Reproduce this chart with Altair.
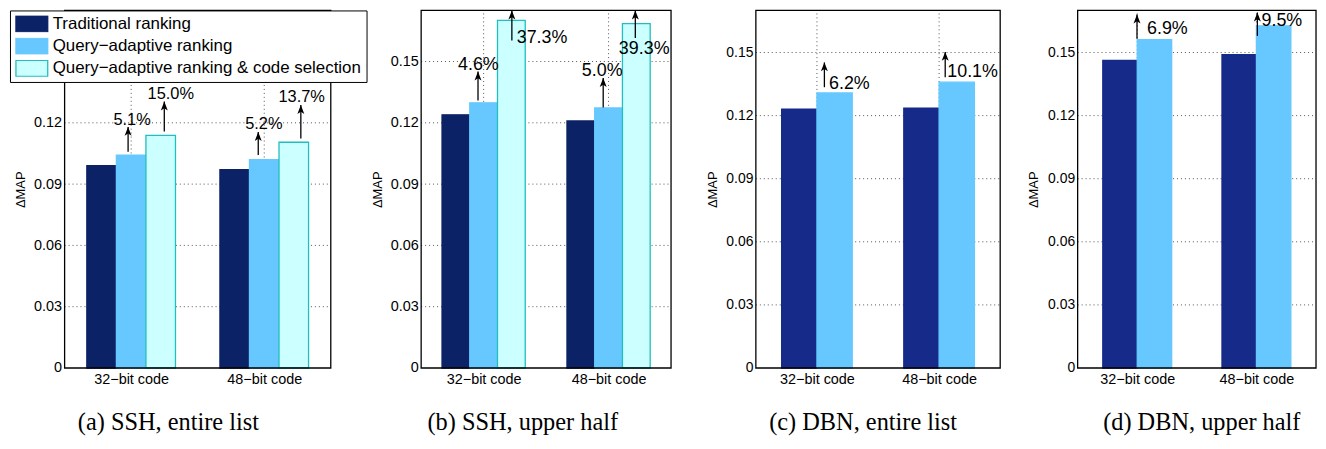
import altair as alt
import pandas as pd

# ---------------- data ----------------
categories = ["32−bit code", "48−bit code"]
series_names = ["Traditional ranking", "Query−adaptive ranking",
                "Query−adaptive ranking & code selection"]

# (a) SSH, entire list
a_traditional = [0.0990, 0.0971]
a_adaptive = [0.1042, 0.1020]
a_adaptive_code = [0.1139, 0.1105]
# (b) SSH, upper half
b_traditional = [0.1239, 0.1209]
b_adaptive = [0.1298, 0.1273]
b_adaptive_code = [0.1701, 0.1686]
# (c) DBN, entire list
c_traditional = [0.1231, 0.1236]
c_adaptive = [0.1308, 0.1359]
# (d) DBN, upper half
d_traditional = [0.1462, 0.1490]
d_adaptive = [0.1561, 0.1627]

y_ticks = [0, 0.03, 0.06, 0.09, 0.12, 0.15]
y_ticks_a = [0, 0.03, 0.06, 0.09, 0.12]   # 0.15 label sits under the legend in (a)
x_ticks = [1, 2]
x_limits = [0.5, 2.5]
captions = ["(a) SSH, entire list", "(b) SSH, upper half",
            "(c) DBN, entire list", "(d) DBN, upper half"]

# gain annotations (text, arrow x, arrow from, arrow to, label x, label y, align)
a_gain_text = ["5.1%", "15.0%", "5.2%", "13.7%"]
a_arrow_x = [0.977, 1.249, 1.955, 2.275]
a_arrow_from = [0.1058, 0.1158, 0.1042, 0.1123]
a_arrow_to = [0.1180, 0.1304, 0.1155, 0.1287]
a_label_x = [1.007, 1.298, 1.997, 2.281]
a_label_y = [0.1212, 0.1341, 0.1195, 0.1325]
a_label_align = ["center", "center", "center", "center"]

b_gain_text = ["4.6%", "37.3%", "5.0%", "39.3%"]
b_arrow_x = [0.955, 1.226, 1.957, 2.214]
b_arrow_from = [0.1309, 0.1603, 0.1275, 0.1615]
b_arrow_to = [0.1451, 0.1750, 0.1419, 0.1750]
b_label_x = [0.958, 1.265, 1.949, 2.285]
b_label_y = [0.1484, 0.1615, 0.1454, 0.1561]
b_label_align = ["center", "left", "center", "center"]

c_gain_text = ["6.2%", "10.1%"]
c_arrow_x = [1.061, 2.050]
c_arrow_from = [0.1335, 0.1382]
c_arrow_to = [0.1453, 0.1503]
c_label_x = [1.099, 2.067]
c_label_y = [0.1350, 0.1406]
c_label_align = ["left", "left"]

d_gain_text = ["6.9%", "9.5%"]
d_arrow_x = [0.998, 2.008]
d_arrow_from = [0.1566, 0.1579]
d_arrow_to = [0.1681, 0.1690]
d_label_x = [1.082, 2.043]
d_label_y = [0.1610, 0.1650]
d_label_align = ["left", "left"]

# ---------------- styles ----------------
SANS = "Liberation Sans"
SERIF = "Liberation Serif"
BAR_WIDTH = {3: 0.222, 2: 0.289}
fills_ssh = ["#0c2266", "#66c8fe", "#ccffff"]
strokes_ssh = ["#0c2266", "#66c8fe", "#20bebe"]
fills_dbn = ["#162a8a", "#66c8fe"]
strokes_dbn = ["#162a8a", "#66c8fe"]
ARROW = "M0,0 L0.7,1.8 L0,1.35 L-0.7,1.8 Z"
GRID = dict(color="#555555", strokeDash=[1, 3], strokeWidth=1)
HEIGHT = 360


def bar_table(value_lists):
    n = len(value_lists)
    bw = BAR_WIDTH[n]
    rows = []
    for si, vals in enumerate(value_lists):
        for ci, v in enumerate(vals):
            left = (ci + 1) - n * bw / 2 + si * bw
            rows.append({"series": series_names[si], "category": categories[ci],
                         "x": left, "x2": left + bw, "value": v})
    return pd.DataFrame(rows)


def ann_table(text, ax, y0, y1, lx, ly, align):
    return pd.DataFrame({"label": text, "ax": ax, "y0": y0, "y1": y1,
                         "lx": lx, "ly": ly, "align": align})


def panel(value_lists, fills, strokes, ymax, ticks, caption, cap_dx, ann,
          frame_w, view_w, tick_font, ann_font, legend):
    n = len(value_lists)
    dom = series_names[:n]
    # frame_w pixels span the axis limits; extra view width is an empty gutter
    x_max = x_limits[0] + view_w / (frame_w / (x_limits[1] - x_limits[0]))
    label_expr = "[" + ",".join("'" + c + "'" for c in categories) + "][datum.value - 1]"
    x_axis = alt.Axis(values=x_ticks, labelExpr=label_expr, title=None, grid=False,
                      ticks=False, domain=False, labelFontSize=14.5, labelPadding=5,
                      labelFont=SANS, labelColor="black")
    y_axis = alt.Axis(values=ticks, labelExpr="datum.value == 0 ? '0' : format(datum.value, '.2f')",
                      title="ΔMAP", grid=False, ticks=False, domain=False,
                      labelFontSize=tick_font, labelFont=SANS, labelColor="black",
                      labelPadding=3, titleFont=SANS, titleFontSize=13,
                      titleFontWeight="normal", titleColor="black",
                      titleX=-44, titleY=HEIGHT / 2, titleAngle=270,
                      titleAlign="center", titleBaseline="middle")
    xs = alt.Scale(domain=[x_limits[0], x_max], nice=False, zero=False)
    ys = alt.Scale(domain=[0, ymax], nice=False)

    def X(f):
        return alt.X(f, scale=xs, axis=x_axis)

    def Y(f):
        return alt.Y(f, scale=ys, axis=y_axis)

    ygrid_df = pd.DataFrame({"v": [t for t in y_ticks if 0 < t < ymax],
                             "x0": x_limits[0], "x1": x_limits[1]})
    xgrid_df = pd.DataFrame({"v": x_ticks, "y0": 0.0, "y1": ymax})
    frame_df = pd.DataFrame({"x0": [x_limits[0]], "x1": [x_limits[1]],
                             "y0": [0.0], "y1": [ymax]})

    ygrid = alt.Chart(ygrid_df).mark_rule(**GRID).encode(x=X("x0:Q"), x2="x1:Q", y=Y("v:Q"))
    xgrid = alt.Chart(xgrid_df).mark_rule(**GRID).encode(x=X("v:Q"), y=Y("y0:Q"), y2="y1:Q")

    bars = alt.Chart(bar_table(value_lists)).mark_rect(strokeWidth=1.3).encode(
        x=X("x:Q"), x2="x2:Q", y=Y("value:Q"), y2=alt.datum(0),
        fill=alt.Fill("series:N", scale=alt.Scale(domain=dom, range=fills),
                      legend=legend, sort=dom),
        stroke=alt.Stroke("series:N", scale=alt.Scale(domain=dom, range=strokes),
                          legend=legend, sort=dom),
    )
    rules = alt.Chart(ann).mark_rule(color="black", strokeWidth=1.3).encode(
        x=X("ax:Q"), y=Y("y0:Q"), y2="y1:Q")
    heads = alt.Chart(ann).mark_point(shape=ARROW, filled=True, size=100,
                                      color="black", opacity=1, strokeWidth=0).encode(
        x=X("ax:Q"), y=Y("y1:Q"))
    frame = alt.Chart(frame_df).mark_rect(fillOpacity=0, stroke="black", strokeWidth=1.3).encode(
        x=X("x0:Q"), x2="x1:Q", y=Y("y0:Q"), y2="y1:Q")
    layers = [ygrid, xgrid, bars, rules, heads]
    for al in ["center", "left"]:
        sub = ann[ann["align"] == al]
        if len(sub):
            layers.append(alt.Chart(sub).mark_text(
                align=al, baseline="middle", font=SANS, fontSize=ann_font,
                color="black").encode(x=X("lx:Q"), y=Y("ly:Q"), text="label:N"))
    layers.append(frame)
    return alt.layer(*layers).properties(
        width=view_w, height=HEIGHT,
        title=alt.TitleParams(caption, orient="bottom", anchor="middle", frame="group",
                              font=SERIF, fontSize=24.5, fontWeight="normal",
                              color="black", offset=25, dx=cap_dx))


legend_a = alt.Legend(title=None, orient="none", legendX=-55, legendY=0,
                      direction="vertical", strokeColor="black", fillColor="white",
                      padding=5, symbolType="M-1,-1H3V1H-1Z", symbolSize=256,
                      labelFontSize=17, labelFont=SANS, labelColor="black",
                      labelOffset=20, rowPadding=4.4, clipHeight=17,
                      symbolStrokeWidth=1.3, labelLimit=500, zindex=5)

pa = panel([a_traditional, a_adaptive, a_adaptive_code], fills_ssh, strokes_ssh, 0.175,
           y_ticks_a, captions[0], -37,
           ann_table(a_gain_text, a_arrow_x, a_arrow_from, a_arrow_to, a_label_x, a_label_y, a_label_align),
           268, 283, 14.5, 16.5, legend_a)
pb = panel([b_traditional, b_adaptive, b_adaptive_code], fills_ssh, strokes_ssh, 0.175,
           y_ticks, captions[1], -28,
           ann_table(b_gain_text, b_arrow_x, b_arrow_from, b_arrow_to, b_label_x, b_label_y, b_label_align),
           251.6, 260.6, 14.5, 18, None)
pc = panel([c_traditional, c_adaptive], fills_dbn, strokes_dbn, 0.17,
           y_ticks, captions[2], -16,
           ann_table(c_gain_text, c_arrow_x, c_arrow_from, c_arrow_to, c_label_x, c_label_y, c_label_align),
           246, 248, 14, 18, None)
pd_ = panel([d_traditional, d_adaptive], fills_dbn, strokes_dbn, 0.17,
            y_ticks, captions[3], 5,
            ann_table(d_gain_text, d_arrow_x, d_arrow_from, d_arrow_to, d_label_x, d_label_y, d_label_align),
            240, 240, 14, 18, None)

chart = alt.hconcat(pa, pb, pc, pd_, spacing=76, bounds="flush").resolve_scale(
    fill="independent", stroke="independent").resolve_legend(
    fill="independent", stroke="independent").properties(
    padding={"left": 1, "top": 0, "right": 1, "bottom": 0},
    background="white",
).configure_view(strokeWidth=0)

chart.save("out.html", embed_options={"renderer": "svg", "actions": False})
